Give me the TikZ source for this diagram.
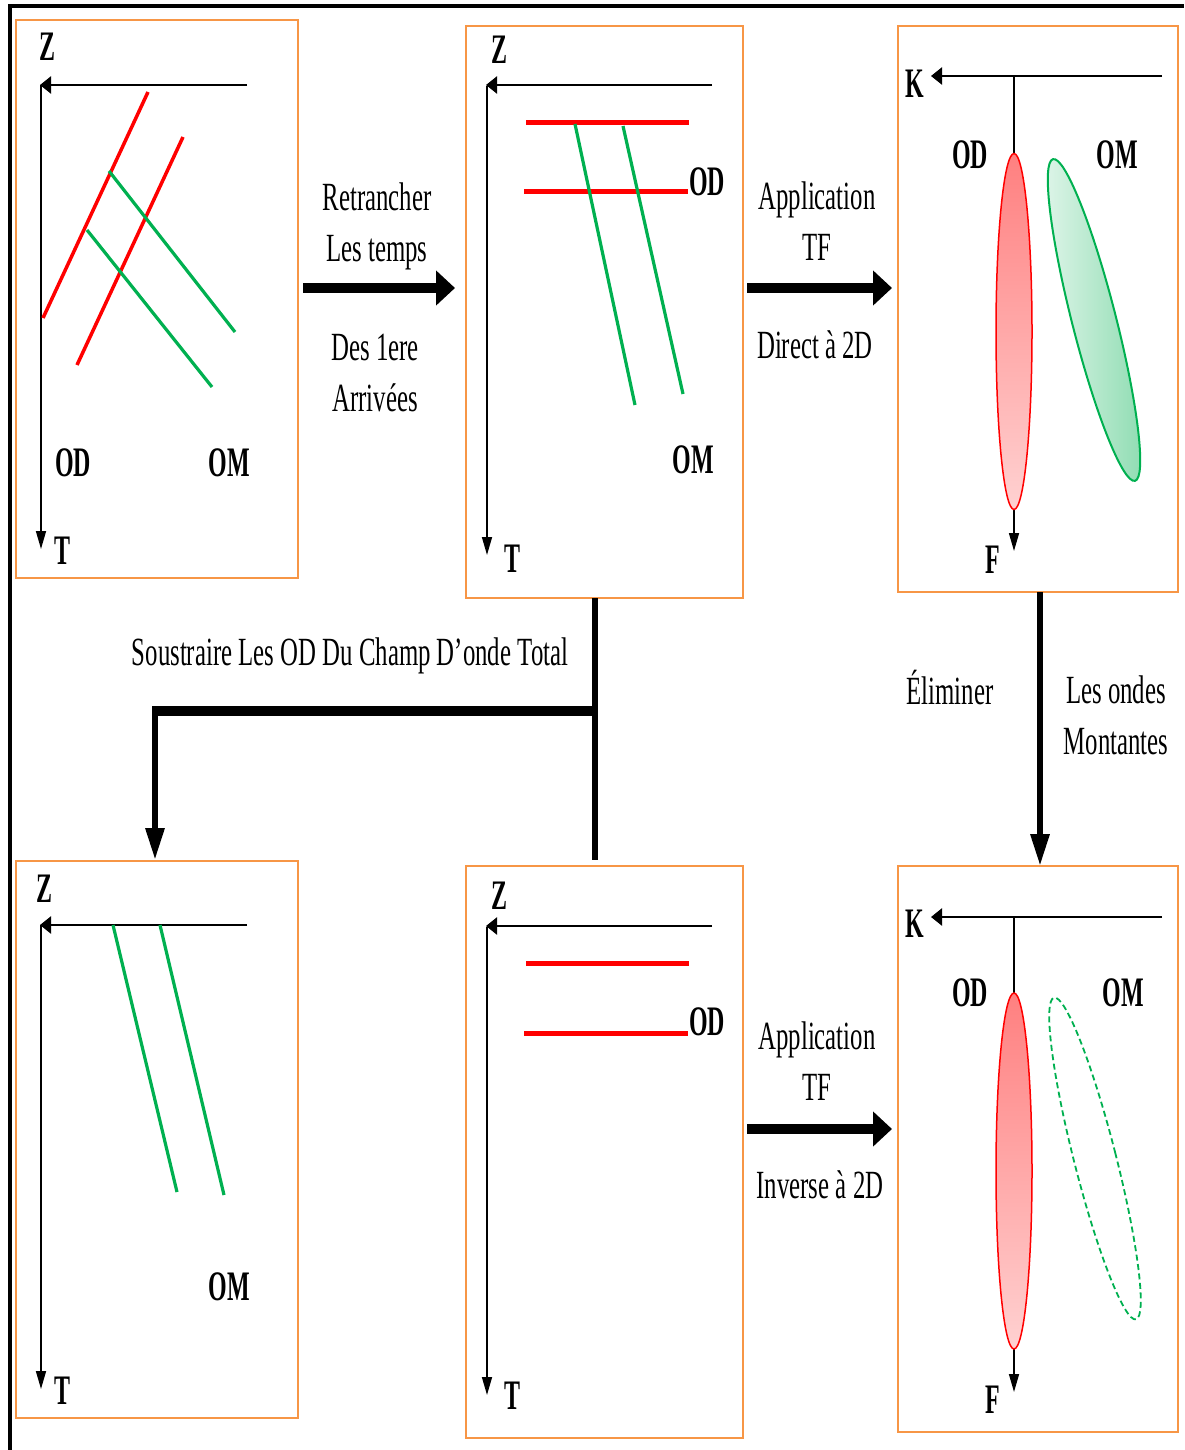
\documentclass[tikz,border=0pt]{standalone}
\usepackage{fontspec}
\setmainfont{Liberation Serif}
\newfontfamily\condfont[FakeStretch=0.62]{Liberation Serif}
\newfontfamily\lblfont[FakeStretch=0.57]{Liberation Serif}
\usetikzlibrary{arrows.meta,calc}
\definecolor{boxorange}{HTML}{F79646}
\definecolor{wgreen}{HTML}{00B050}
\definecolor{wred}{HTML}{FF0000}
\begin{document}
\begin{tikzpicture}[x=1pt,y=-1pt,
  panel/.style={draw=boxorange,line width=2.2pt,inner sep=0pt,outer sep=0pt},
  ax/.style={font=\lblfont\bfseries\fontsize{42}{42}\selectfont,inner sep=0pt},
  txt/.style={font=\condfont\fontsize{40}{51}\selectfont,align=center,inner sep=0pt},
  hax/.style={line width=2.4pt,-{Triangle[length=11pt,width=17pt]}},
  vax/.style={line width=1.6pt,-{Triangle[length=18pt,width=10pt]}},
  harrow/.style={line width=10pt,-{Triangle[length=19pt,width=34pt]}},
  vline/.style={line width=6pt},
  varrow/.style={line width=6pt,-{Triangle[length=32pt,width=18pt]}},
  redsl/.style={wred,line width=3.5pt},
  redh/.style={wred,line width=5pt},
  grn/.style={wgreen,line width=3.2pt}]
\useasboundingbox (0,0) rectangle (1184,1450);
% outer frame (top and left)
\draw[line width=4pt] (10,1450) -- (10,6) -- (1184,6);

% panels
\node[panel,minimum width=282pt,minimum height=558pt] (A) at (157,299) {};
\node[panel,minimum width=277pt,minimum height=572pt] (B) at (604.5,312) {};
\node[panel,minimum width=280pt,minimum height=566pt] (C) at (1038,309) {};
\node[panel,minimum width=282pt,minimum height=557pt] (D) at (157,1139.5) {};
\node[panel,minimum width=277pt,minimum height=572pt] (E) at (604.5,1152) {};
\node[panel,minimum width=280pt,minimum height=566pt] (F) at (1038,1149) {};

% ---------- Panel A ----------
\draw[hax] (247,85) -- (40,85);
\draw[vax] (41,85) -- (41,549);
\node[ax] (Az) at (47,47) {Z};
\node[ax] (At) at (62,551) {T};
\draw[redsl] (148,92) -- (43,318);
\draw[redsl] (183,137) -- (77,365);
\draw[grn] (109,171) -- (235,332);
\draw[grn] (87,230) -- (212,387);
\node[ax] (Aod) at (73,463) {OD};
\node[ax] (Aom) at (229,463) {OM};

% ---------- Panel B ----------
\draw[hax] (712,85) -- (486,85);
\draw[vax] (487,86) -- (487,555);
\node[ax] (Bz) at (499,50) {Z};
\node[ax] (Bt) at (512,559) {T};
\draw[redh] (526,123) -- (689,123);
\draw[redh] (524,192) -- (688,192);
\draw[grn] (575,124) -- (635,405);
\draw[grn] (623,126) -- (683,394);
\node[ax] (Bod) at (707,182) {OD};
\node[ax] (Bom) at (693,460) {OM};

% ---------- Panel C ----------
\draw[hax] (1162,76) -- (931,76);
\draw[vax] (1014,76) -- (1014,551);
\node[ax] (Ck) at (915,84) {K};
\node[ax] (Cf) at (993,560) {F};
\shadedraw[draw=wred,line width=1.5pt,top color=red!50!white,bottom color=red!18!white]
  (1014,331.5) ellipse [x radius=18pt,y radius=178pt];
\shadedraw[draw=wgreen,line width=2pt,left color=wgreen!12!white,right color=wgreen!45!white,
  rotate around={14.3:(1094,320)}]
  (1094,320) ellipse [x radius=22pt,y radius=166pt];
\node[ax] (Cod) at (970,155) {OD};
\node[ax] (Com) at (1117,155) {OM};

% ---------- Panel D ----------
\draw[hax] (247,925) -- (40,925);
\draw[vax] (41,925) -- (41,1389);
\node[ax] (Dz) at (44,889) {Z};
\node[ax] (Dt) at (62,1391) {T};
\draw[grn] (113,925) -- (177,1192);
\draw[grn] (160,925) -- (224,1195);
\node[ax] (Dom) at (229,1287) {OM};

% ---------- Panel E ----------
\draw[hax] (712,926) -- (486,926);
\draw[vax] (487,927) -- (487,1395);
\node[ax] (Ez) at (499,896) {Z};
\node[ax] (Et) at (512,1396) {T};
\draw[redh] (526,963) -- (689,963);
\draw[redh] (524,1033) -- (688,1033);
\node[ax] (Eod) at (707,1022) {OD};

% ---------- Panel F ----------
\draw[hax] (1162,917) -- (931,917);
\draw[vax] (1014,917) -- (1014,1392);
\node[ax] (Fk) at (915,924) {K};
\node[ax] (Ff) at (993,1400) {F};
\shadedraw[draw=wred,line width=1.5pt,top color=red!50!white,bottom color=red!18!white]
  (1014,1171) ellipse [x radius=18pt,y radius=178pt];
\draw[wgreen,line width=1.8pt,dash pattern=on 6pt off 3.5pt,rotate around={14.3:(1095,1158.5)}]
  (1095,1158.5) ellipse [x radius=21pt,y radius=166pt];
\node[ax] (Fod) at (970,993) {OD};
\node[ax] (Fom) at (1123,993) {OM};

% ---------- connectors ----------
\coordinate (r1) at (0,288);
\coordinate (r2) at (0,1129);
\coordinate (v1) at (1040,0);
\draw[harrow,shorten <=5pt,shorten >=11pt] (A.east |- r1) -- (B.west |- r1);
\draw[harrow,shorten <=4pt,shorten >=6pt] (B.east |- r1) -- (C.west |- r1);
\draw[harrow,shorten <=4pt,shorten >=6pt] (E.east |- r2) -- (F.west |- r2);
\draw[varrow] (C.south -| v1) -- (F.north -| v1);

\coordinate (j) at (595,711);
\coordinate (k) at (155,711);
\draw[vline,shorten >=6pt] (B.south -| j) -- (E.north -| j);
\draw[line width=10pt] ([xshift=-3pt]k) -- ([xshift=3pt]j);
\draw[varrow,shorten >=1pt] ([yshift=-5pt]k) -- (D.north -| k);

% ---------- texts ----------
\node[txt] (t1) at (377,226) {Retrancher\\Les temps};
\node[txt] (t2) at (375,373) {Des 1ere\\Arrivées};
\node[txt] (t3) at (817,221) {Application\\TF};
\node[txt] (t4) at (815,345) {Direct à 2D};
\node[txt] (t5) at (817,1061) {Application\\TF};
\node[txt] (t6) at (820,1185) {Inverse à 2D};
\node[txt] (t7) at (950,688) {Éliminer};
\node[txt] (t8) at (1116,715) {Les ondes\\Montantes};
\node[txt] (t9) at (350,656) {Soustraire Les OD Du Champ D’onde Total};
\end{tikzpicture}
\end{document}
